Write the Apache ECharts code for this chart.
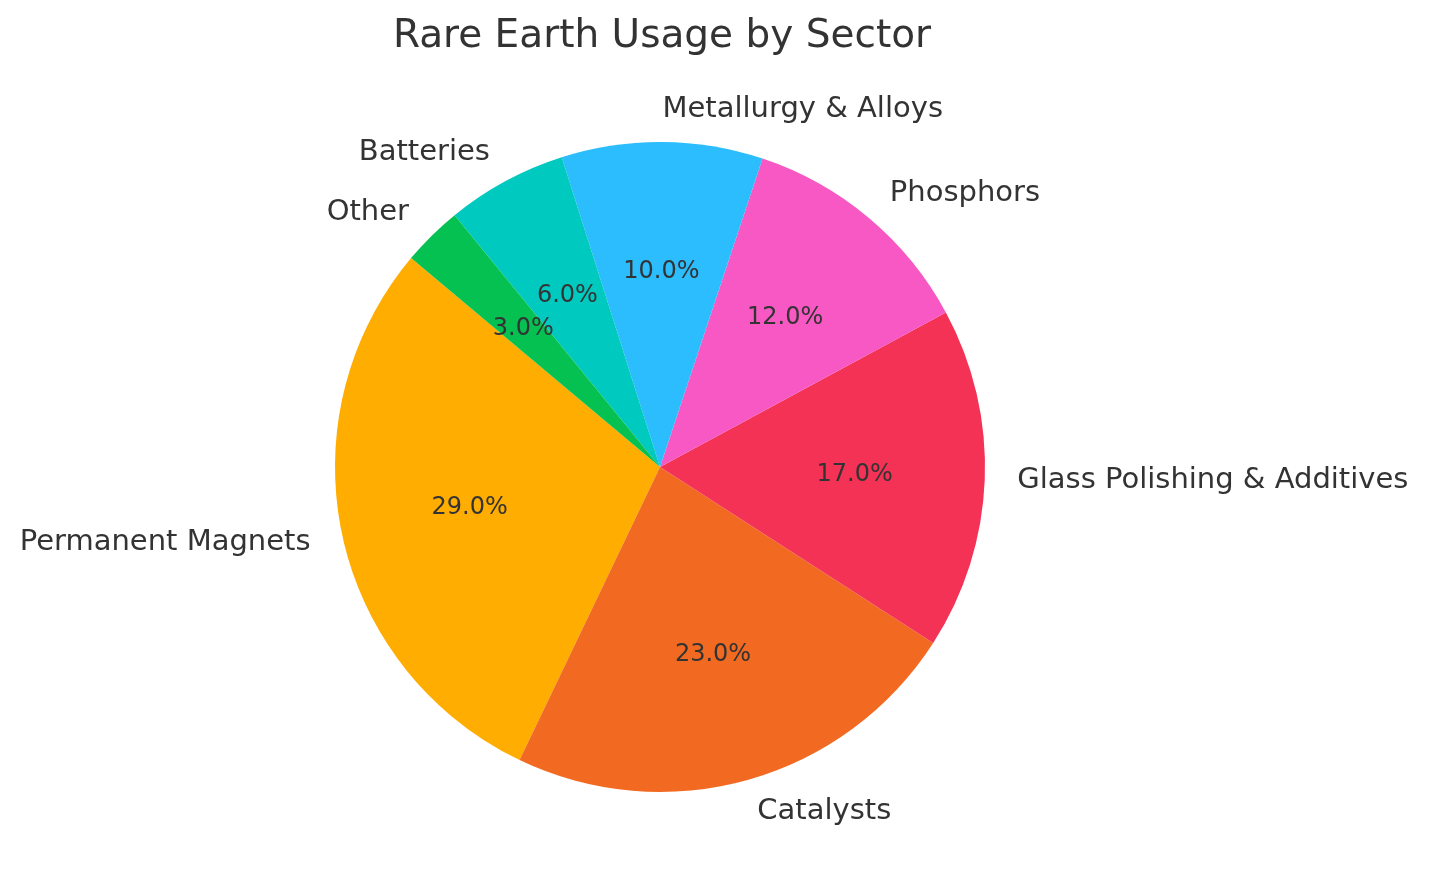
<!DOCTYPE html>
<html>
<head>
<meta charset="utf-8">
<title>Rare Earth Usage by Sector</title>
<script src="https://cdn.jsdelivr.net/npm/echarts@6/dist/echarts.min.js"></script>
<style>
  html, body { margin: 0; padding: 0; background: #fff; }
  #chart { width: 1430px; height: 890px; }
</style>
</head>
<body>
<div id="chart"></div>
<script>
var sectors = ['Permanent Magnets', 'Catalysts', 'Glass Polishing & Additives', 'Phosphors', 'Metallurgy & Alloys', 'Batteries', 'Other']
var shares = [29, 23, 17, 12, 10, 6, 3]
var sectorColors = ['#FFAD00', '#F26A21', '#F43256', '#F758C3', '#2BBDFD', '#00C9C0', '#04C152']

var R = 325
var center = [660, 467]
var fontFamily = '"DejaVu Sans", sans-serif'

var pieData = sectors.map(function(name, i) {
  return { name: name, value: shares[i], itemStyle: { color: sectorColors[i] } }
})

var chart = echarts.init(document.getElementById('chart'))
chart.setOption({
  animation: false,
  title: {
    text: 'Rare Earth Usage by Sector',
    left: 657,
    top: 12,
    textAlign: 'center',
    textStyle: { fontFamily: fontFamily, fontSize: 39, fontWeight: 'normal', color: '#333' }
  },
  series: [
    {
      // wedges + outer name labels (about 1.1 r)
      type: 'pie',
      center: center,
      radius: [0, R],
      startAngle: 140,
      clockwise: false,
      avoidLabelOverlap: false,
      data: pieData,
      label: {
        position: 'outside',
        formatter: '{b}',
        fontFamily: fontFamily,
        fontSize: 29,
        color: '#333',
        distanceToLabelLine: 0
      },
      labelLine: { show: false, length: R * 0.1, length2: 0 }
    },
    {
      // transparent overlay only for the percent labels (about 0.6 r)
      type: 'pie',
      center: center,
      radius: [R * 0.18, R],
      startAngle: 140,
      clockwise: false,
      silent: true,
      avoidLabelOverlap: false,
      data: pieData.map(function(d) {
        return { name: d.name, value: d.value, itemStyle: { color: 'rgba(0,0,0,0)' } }
      }),
      label: {
        position: 'inside',
        formatter: function(p) { return p.value.toFixed(1) + '%' },
        fontFamily: fontFamily,
        fontSize: 24,
        color: '#333'
      },
      labelLine: { show: false }
    }
  ]
})
</script>
</body>
</html>
